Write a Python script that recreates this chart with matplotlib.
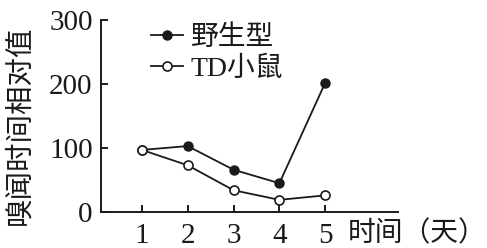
import matplotlib
matplotlib.use("Agg")
import matplotlib.pyplot as plt

plt.rcParams['font.family'] = ['Liberation Serif', 'Noto Sans CJK SC']

days = [1, 2, 3, 4, 5]
wild_type = [97, 103, 66, 45, 202]
td_mouse = [97, 73, 34, 19, 26]
yticks = [0, 100, 200, 300]
series_labels = ['野生型', 'TD小鼠']
xlabel = '时间（天）'
ylabel = '嗅闻时间相对值'

fig = plt.figure(figsize=(4.87, 2.48), dpi=100)
ax = fig.add_axes([101/487, 1-212/248, (398-101)/487, (212-20)/248])

col = '#1a1a1a'
ax.plot(days, wild_type, '-o', color=col, lw=1.3, ms=6.5, mfc=col, mec=col,
        label=series_labels[0], clip_on=False)
ax.plot(days, td_mouse, '-o', color=col, lw=1.3, ms=6.5, mfc='white', mec=col,
        mew=1.2, label=series_labels[1], clip_on=False)

ax.set_xlim(1 - 41/46, 5 + 73/46)
ax.set_ylim(0, 300)
ax.set_xticks(days)
ax.set_yticks(yticks)
ax.spines['top'].set_visible(False)
ax.spines['right'].set_visible(False)
for s in ['left', 'bottom']:
    ax.spines[s].set_linewidth(1.4)
    ax.spines[s].set_color(col)
ax.tick_params(direction='in', length=5, width=1.4, colors=col, labelsize=21)
ax.tick_params(axis='x', pad=8)
ax.tick_params(axis='y', pad=6)

ax.set_xlabel(xlabel, fontsize=20, ha='left', va='center', color=col)
ax.xaxis.set_label_coords((348-101)/297, (212-234)/192)
ax.set_ylabel(ylabel, fontsize=20.5, va='center', color=col)
ax.yaxis.set_label_coords((20-101)/297, (212-125)/192)

leg = ax.legend(loc='upper left', bbox_to_anchor=(0.13, 1.03), frameon=False,
                fontsize=20, handlelength=1.15, handletextpad=0.3,
                labelspacing=0.2, borderaxespad=0)
for t in leg.get_texts():
    t.set_color(col)

fig.savefig('out.png', dpi=100)
